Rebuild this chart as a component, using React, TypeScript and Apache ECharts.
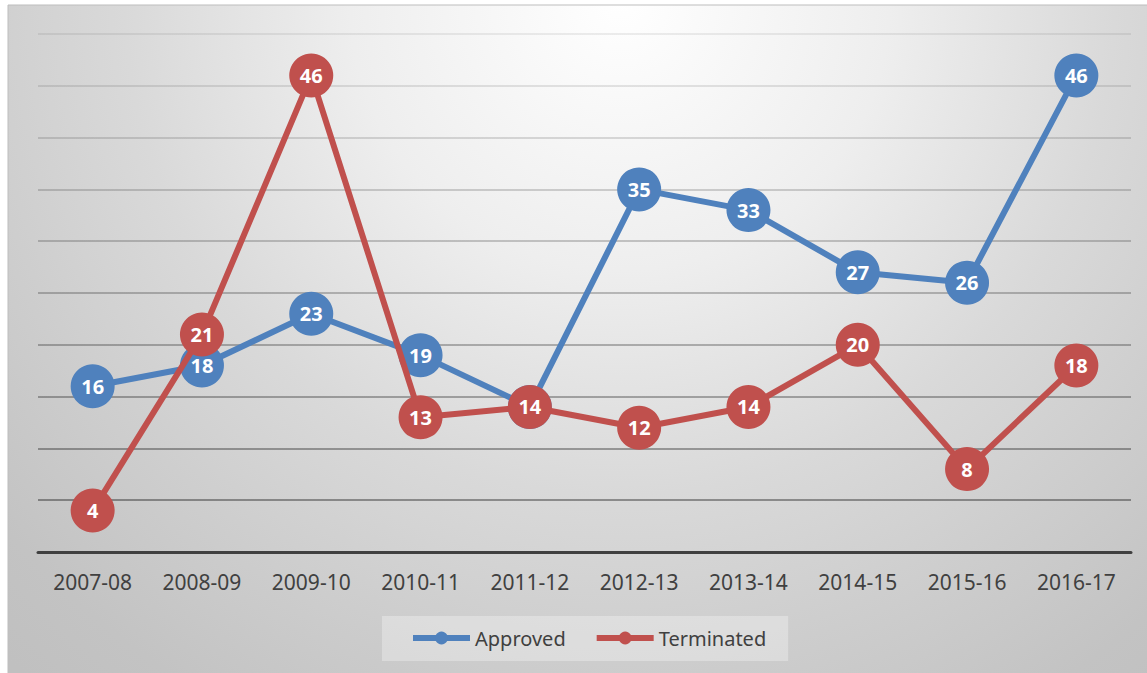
import React, { useEffect, useRef } from "react";
import * as echarts from "echarts";

const categories = ["2007-08", "2008-09", "2009-10", "2010-11", "2011-12", "2012-13", "2013-14", "2014-15", "2015-16", "2016-17"];
const approved = [16, 18, 23, 19, 14, 35, 33, 27, 26, 46];
const terminated = [4, 21, 46, 13, 14, 12, 14, 20, 8, 18];
const yMin = 0;
const yMax = 50;
const yStep = 5;

const BLUE = "#4F81BD";
const RED = "#C0504D";

export default function App() {
  const ref = useRef<HTMLDivElement>(null);
  useEffect(() => {
    if (!ref.current) return;
    const chart = echarts.init(ref.current, null, { renderer: "svg" });
    const bg = new echarts.graphic.RadialGradient(620, 0, 900, [
      { offset: 0, color: "#ffffff" },
      { offset: 0.3, color: "#eeeeee" },
      { offset: 0.55, color: "#d9d9d9" },
      { offset: 0.72, color: "#cecece" },
      { offset: 0.9, color: "#c3c3c3" },
      { offset: 1, color: "#c0c0c0" },
    ], true);
    const gridColor = new echarts.graphic.LinearGradient(0, 34, 0, 502, [
      { offset: 0, color: "rgba(0,0,0,0.07)" },
      { offset: 1, color: "rgba(0,0,0,0.36)" },
    ], true);
    const labelStyle = {
      show: true,
      position: "inside" as const,
      color: "#ffffff",
      fontWeight: "bold" as const,
      fontSize: 20,
      fontFamily: "Noto Sans",
    };
    chart.setOption({
      animation: false,
      textStyle: { fontFamily: "Noto Sans" },
      graphic: [
        {
          type: "rect",
          z: -100,
          silent: true,
          shape: { x: 8, y: 5, width: 1150, height: 680 },
          style: { fill: bg, stroke: "#bdbdbd", lineWidth: 1 },
        },
      ],
      grid: { left: 38, right: 16, top: 34, bottom: 121, containLabel: false },
      xAxis: {
        type: "category",
        data: categories,
        boundaryGap: true,
        axisLine: { show: true, lineStyle: { color: "#404040", width: 3 } },
        axisTick: { show: false },
        axisLabel: { fontSize: 21, color: "#404040", margin: 19, fontFamily: "Noto Sans" },
        splitLine: { show: false },
      },
      yAxis: {
        type: "value",
        min: yMin,
        max: yMax,
        interval: yStep,
        axisLine: { show: false },
        axisTick: { show: false },
        axisLabel: { show: false },
        splitLine: { show: true, lineStyle: { color: gridColor, width: 2 } },
      },
      legend: {
        data: ["Approved", "Terminated"],
        left: 382,
        top: 616,
        padding: [12, 22, 13, 28],
        backgroundColor: "rgba(255,255,255,0.3)",
        itemWidth: 57,
        itemHeight: 16,
        itemGap: 28,
        textStyle: { fontSize: 20, color: "#404040", lineHeight: 16, fontFamily: "Noto Sans" },
        lineStyle: { width: 6 },
      },
      series: [
        {
          name: "Approved",
          type: "line",
          data: approved,
          symbol: "circle",
          symbolSize: 44,
          showAllSymbol: true,
          lineStyle: { color: BLUE, width: 6 },
          itemStyle: { color: BLUE },
          label: labelStyle,
          z: 2,
        },
        {
          name: "Terminated",
          type: "line",
          data: terminated,
          symbol: "circle",
          symbolSize: 44,
          showAllSymbol: true,
          lineStyle: { color: RED, width: 6 },
          itemStyle: { color: RED },
          label: labelStyle,
          z: 3,
        },
      ],
    });
    return () => chart.dispose();
  }, []);
  return (
    <div
      ref={ref}
      style={{ position: "absolute", left: 0, top: 0, width: 1147, height: 673 }}
    />
  );
}
